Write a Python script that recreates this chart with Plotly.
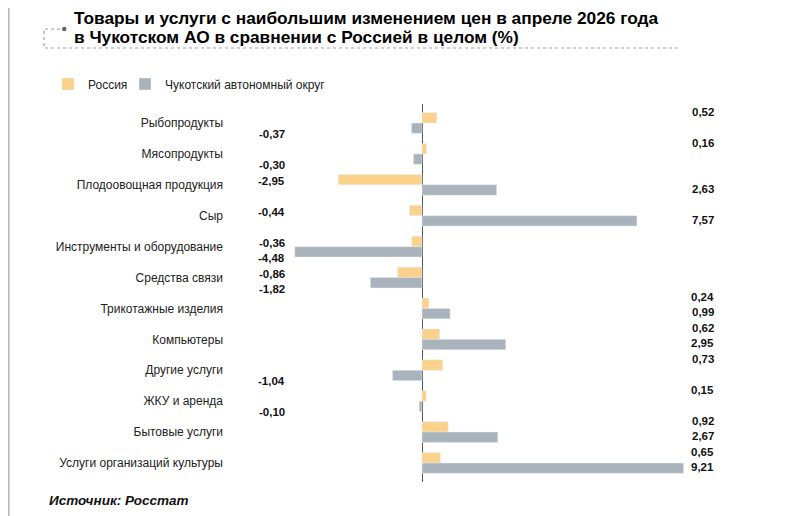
import plotly.graph_objects as go

categories = [
    "Рыбопродукты", "Мясопродукты", "Плодоовощная продукция", "Сыр",
    "Инструменты и оборудование", "Средства связи", "Трикотажные изделия",
    "Компьютеры", "Другие услуги", "ЖКУ и аренда", "Бытовые услуги",
    "Услуги организаций культуры",
]
russia = [0.52, 0.16, -2.95, -0.44, -0.36, -0.86, 0.24, 0.62, 0.73, 0.15, 0.92, 0.65]
chukotka = [-0.37, -0.30, 2.63, 7.57, -4.48, -1.82, 0.99, 2.95, -1.04, -0.10, 2.67, 9.21]

W, H = 793, 516
OFF = 8  # page body margin
# plot area in screen pixels
L, R, T, B = 232, 716, 104, 482
PX_PER_UNIT = 28.4
ZERO_PX = 422
FONT = "Liberation Sans, Arial, sans-serif"


def px2x(px):
    return (px - L) / (R - L)


def py2y(py):
    return 1 - (py - T) / (B - T)


def fmt(v):
    return f"{v:.2f}".replace(".", ",")


fig = go.Figure()
fig.add_trace(go.Bar(y=categories, x=russia, name="Россия", orientation="h",
                     marker_color="#FBD18C", hoverinfo="x+y", legend="legend",
                     showlegend=True))
fig.add_trace(go.Bar(y=categories, x=chukotka, name="Чукотский автономный округ",
                     orientation="h", marker_color="#AAB3BB", hoverinfo="x+y",
                     legend="legend2", showlegend=True))

# value labels: positives in a right column, negatives in a left column
ann = []
for cat, r, c in zip(categories, russia, chukotka):
    ann.append(dict(y=cat, yref="y", x=1.0 if r >= 0 else px2x(287), xref="paper",
                    xanchor="right", yanchor="middle", showarrow=False,
                    yshift=11 if r >= 0 else 4, text=f"<b>{fmt(r)}</b>",
                    font=dict(size=11.5, color="#111", family=FONT)))
    ann.append(dict(y=cat, yref="y", x=1.0 if c >= 0 else px2x(287), xref="paper",
                    xanchor="right", yanchor="middle", showarrow=False,
                    yshift=-4 if c >= 0 else -11, text=f"<b>{fmt(c)}</b>",
                    font=dict(size=11.5, color="#111", family=FONT)))

# title and source
ann.append(dict(text="<b>Товары и услуги с наибольшим изменением цен в апреле 2026 года</b>",
                xref="paper", yref="paper", x=px2x(72), y=py2y(18), xanchor="left",
                yanchor="middle", showarrow=False, font=dict(size=17.3, color="#000", family=FONT)))
ann.append(dict(text="<b>в Чукотском АО в сравнении с Россией в целом (%)</b>",
                xref="paper", yref="paper", x=px2x(72), y=py2y(37), xanchor="left",
                yanchor="middle", showarrow=False, font=dict(size=17.3, color="#000", family=FONT)))
ann.append(dict(text="<b><i>Источник: Росстат</i></b>",
                xref="paper", yref="paper", x=px2x(47), y=py2y(500), xanchor="left",
                yanchor="middle", showarrow=False, font=dict(size=13.5, color="#111", family=FONT)))

shapes = [
    dict(type="line", xref="paper", yref="paper", x0=px2x(OFF + 0.8), x1=px2x(OFF + 0.8),
         y0=py2y(OFF), y1=py2y(H + OFF), line=dict(color="#b5b5b5", width=1.5)),
    dict(type="path", xref="paper", yref="paper",
         path=f"M{px2x(60)},{py2y(29)} L{px2x(44)},{py2y(29)} L{px2x(44)},{py2y(48)} L{px2x(680)},{py2y(48)}",
         line=dict(color="#a0a0a0", width=1.2, dash="dot")),
    dict(type="circle", xref="paper", yref="paper",
         x0=px2x(62), x1=px2x(66.5), y0=py2y(31.2), y1=py2y(26.8),
         fillcolor="#5d6773", line=dict(width=0)),
]

legend_style = dict(orientation="h", yanchor="middle", xanchor="left", y=py2y(84),
                    font=dict(size=12, color="#222"), itemwidth=30,
                    bgcolor="rgba(0,0,0,0)")

fig.update_layout(
    width=W, height=H,
    margin=dict(l=L - OFF, r=W - (R - OFF), t=T - OFF, b=H - (B - OFF)),
    paper_bgcolor="white", plot_bgcolor="white",
    barmode="group", bargap=0.33, bargroupgap=0,
    font=dict(family=FONT, size=12, color="#222"),
    annotations=ann, shapes=shapes, showlegend=True,
    legend=dict(legend_style, x=px2x(48)),
    legend2=dict(legend_style, x=px2x(125)),
    xaxis=dict(range=[(L - ZERO_PX) / PX_PER_UNIT, (R - ZERO_PX) / PX_PER_UNIT],
               showgrid=False, showticklabels=False, zeroline=True,
               zerolinecolor="#555", zerolinewidth=1.3, fixedrange=True),
    yaxis=dict(autorange="reversed", showgrid=False, ticks="", ticklabelstandoff=8,
               tickfont=dict(size=12, color="#222"), fixedrange=True),
)

fig.write_html("out.html")
